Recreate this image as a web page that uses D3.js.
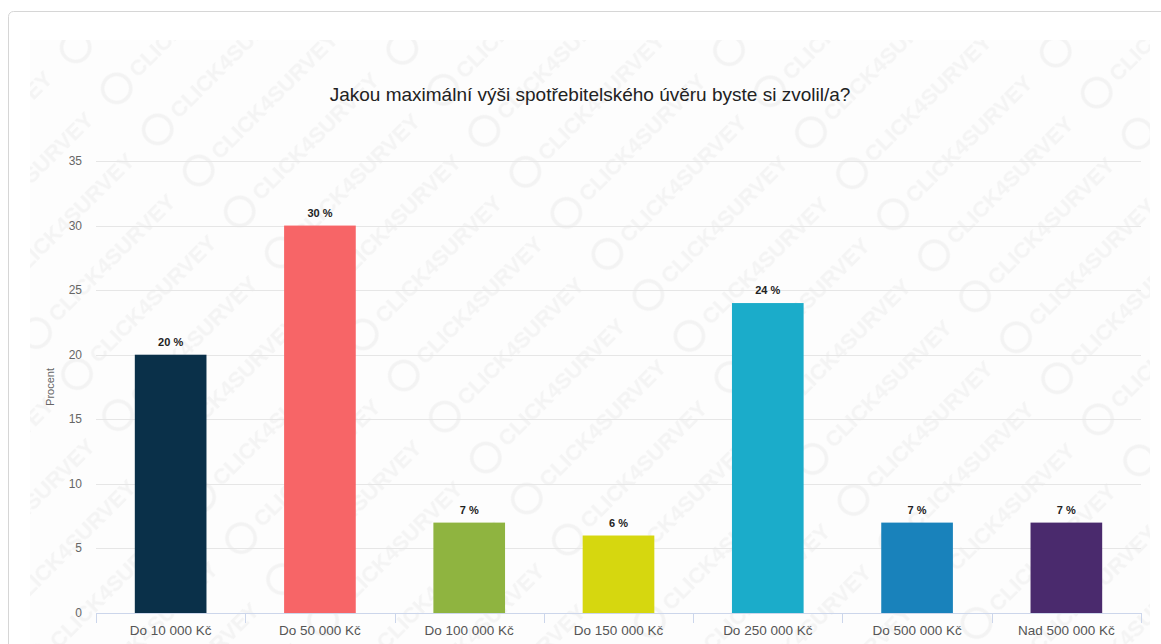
<!DOCTYPE html>
<html>
<head>
<meta charset="utf-8">
<script src="https://cdn.jsdelivr.net/npm/d3@7"></script>
<style>
  body { margin: 0; background: #fff; font-family: Arial, "Liberation Sans", sans-serif; }
</style>
</head>
<body>
<div id="chart-area"></div>
<script>
var categories = ['Do 10 000 Kč', 'Do 50 000 Kč', 'Do 100 000 Kč', 'Do 150 000 Kč', 'Do 250 000 Kč', 'Do 500 000 Kč', 'Nad 500 000 Kč'];
var values = [20, 30, 7, 6, 24, 7, 7];
var colors = ['#0a3049', '#f76567', '#8fb440', '#d6d70f', '#1bacca', '#1982bb', '#4a2a6d'];
var yTicks = [0, 5, 10, 15, 20, 25, 30, 35];
var title = 'Jakou maximální výši spotřebitelského úvěru byste si zvolil/a?';
var yTitle = 'Procent';

var W = 1161, H = 644;
var margin = { top: 161, right: 20, bottom: 31, left: 96 },
    width = 1141 - margin.left,
    height = 613 - margin.top;

var root = d3.select('#chart-area').append('svg')
    .attr('width', W)
    .attr('height', H);

// card outline
root.append('rect')
  .attr('x', 8.5).attr('y', 11.5)
  .attr('width', W + 20).attr('height', H + 20)
  .attr('rx', 5)
  .attr('fill', '#fff')
  .attr('stroke', '#d6d6d6');

// watermark pattern
var defs = root.append('defs');
var pat = defs.append('pattern')
  .attr('id', 'wm')
  .attr('patternUnits', 'userSpaceOnUse')
  .attr('width', 230).attr('height', 58)
  .attr('patternTransform', 'rotate(-45)');
pat.append('rect').attr('width', 230).attr('height', 58).attr('fill', '#fdfdfd');
pat.append('circle')
  .attr('cx', 20).attr('cy', 29).attr('r', 14)
  .attr('fill', 'none').attr('stroke', '#f3f3f3').attr('stroke-width', 3.5);
pat.append('text')
  .attr('x', 42).attr('y', 37)
  .attr('font-size', '22px')
  .attr('font-weight', 'bold')
  .attr('fill', '#f4f4f4')
  .text('CLICK4SURVEY');

root.append('rect')
  .attr('x', 30).attr('y', 40)
  .attr('width', 1120).attr('height', H - 40)
  .attr('fill', 'url(#wm)');

var svg = root.append('g')
  .attr('transform', 'translate(' + margin.left + ',' + margin.top + ')');

var x = d3.scaleBand()
  .domain(categories)
  .range([0, width])
  .paddingInner(0.52)
  .paddingOuter(0.26);

var y = d3.scaleLinear()
  .domain([0, 35])
  .range([height, 0]);

// gridlines
svg.append('g')
  .selectAll('line')
  .data(yTicks.slice(1))
  .enter().append('line')
    .attr('x1', 0).attr('x2', width)
    .attr('y1', function(d){ return Math.round(y(d)) + 0.5; })
    .attr('y2', function(d){ return Math.round(y(d)) + 0.5; })
    .attr('stroke', '#e6e6e6');

// y tick labels
svg.append('g')
  .selectAll('text')
  .data(yTicks)
  .enter().append('text')
    .attr('x', -14)
    .attr('y', function(d){ return y(d) + 4; })
    .attr('text-anchor', 'end')
    .attr('font-size', '12px')
    .attr('fill', '#666')
    .text(function(d){ return d; });

// bars
svg.selectAll('.bar')
  .data(values)
  .enter().append('rect')
    .attr('class', 'bar')
    .attr('x', function(d, i){ return x(categories[i]); })
    .attr('y', function(d){ return y(d); })
    .attr('width', x.bandwidth())
    .attr('height', function(d){ return height - y(d); })
    .attr('fill', function(d, i){ return colors[i]; });

// value labels
svg.selectAll('.val')
  .data(values)
  .enter().append('text')
    .attr('class', 'val')
    .attr('x', function(d, i){ return x(categories[i]) + x.bandwidth() / 2; })
    .attr('y', function(d){ return y(d) - 9; })
    .attr('text-anchor', 'middle')
    .attr('font-size', '11px')
    .attr('font-weight', 'bold')
    .attr('fill', '#222')
    .text(function(d){ return d + ' %'; });

// x axis
var bounds = d3.range(categories.length + 1).map(function(i){ return i * width / categories.length; });

svg.append('line')
  .attr('x1', 0).attr('x2', width)
  .attr('y1', height + 0.5).attr('y2', height + 0.5)
  .attr('stroke', '#ccd6eb');

svg.append('g')
  .selectAll('line')
  .data(bounds)
  .enter().append('line')
    .attr('x1', function(d){ return Math.round(d) + 0.5; })
    .attr('x2', function(d){ return Math.round(d) + 0.5; })
    .attr('y1', height).attr('y2', height + 10)
    .attr('stroke', '#ccd6eb');

svg.append('g')
  .selectAll('text')
  .data(categories)
  .enter().append('text')
    .attr('x', function(d){ return x(d) + x.bandwidth() / 2; })
    .attr('y', height + 22)
    .attr('text-anchor', 'middle')
    .attr('font-size', '13.5px')
    .attr('fill', '#555')
    .text(function(d){ return d; });

// y title
svg.append('text')
  .attr('transform', 'rotate(-90)')
  .attr('x', -(y(15) + y(20)) / 2)
  .attr('y', -42)
  .attr('text-anchor', 'middle')
  .attr('font-size', '11px')
  .attr('fill', '#666')
  .text(yTitle);

// title
root.append('text')
  .attr('x', 590)
  .attr('y', 101)
  .attr('text-anchor', 'middle')
  .attr('font-size', '19px')
  .attr('fill', '#222')
  .text(title);
</script>
</body>
</html>
